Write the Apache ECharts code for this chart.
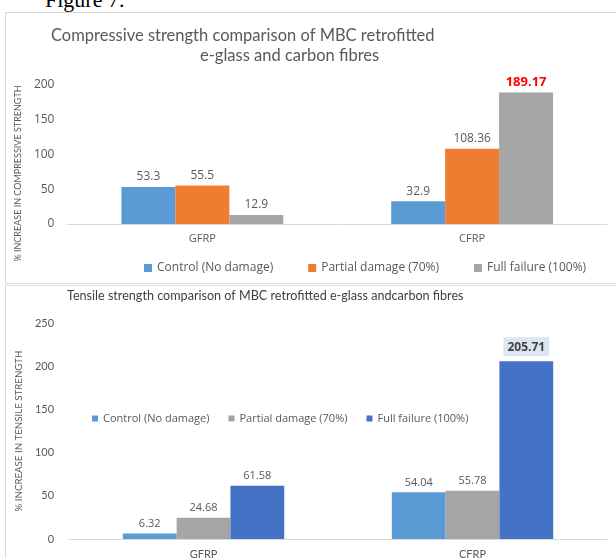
<!DOCTYPE html>
<html>
<head>
<meta charset="utf-8">
<script src="https://cdn.jsdelivr.net/npm/echarts@6/dist/echarts.min.js"></script>
<style>
	html, body { margin: 0; padding: 0; background: #ffffff; }
	body { width: 616px; height: 558px; position: relative; overflow: hidden; }
	#fig { position: absolute; left: 45px; top: -11px; font-family: "Liberation Serif", serif; font-size: 22px; line-height: 22px; color: #000; }
	.panel { position: absolute; left: 5px; width: 620px; border: 1px solid #d9d9d9; background: #fff; }
	#p1 { top: 12px; height: 270px; }
	#p2 { top: 285px; height: 300px; }
	.chart { position: absolute; left: 0; top: 0; width: 610px; }
</style>
</head>
<body>
<div id="fig">Figure 7.</div>
<div class="panel" id="p1"><div class="chart" id="c1" style="height:270px"></div></div>
<div class="panel" id="p2"><div class="chart" id="c2" style="height:300px"></div></div>
<script>
// 数据
var categories = ['GFRP', 'CFRP'];
var seriesNames = ['Control (No damage)', 'Partial damage (70%)', 'Full failure (100%)'];

var compControl = [53.3, 32.9];
var compPartial = [55.5, 108.36];
var compFull = [12.9, 189.17];
var compAxis = { min: 0, max: 200, interval: 50 };

var tensControl = [6.32, 54.04];
var tensPartial = [24.68, 55.78];
var tensFull = [61.58, 205.71];
var tensAxis = { min: 0, max: 250, interval: 50 };

var grey = '#595959';

// 高亮最大值的标签
function markMax(arr, labelStyle) {
	var maxIdx = arr.indexOf(Math.max.apply(null, arr));
	return arr.map(function (v, i) {
		return i === maxIdx ? { value: v, label: labelStyle } : v;
	});
}

function barSeries(name, data, color, fontSize) {
	return {
		name: name,
		type: 'bar',
		data: data,
		barGap: '0%',
		barCategoryGap: '40%',
		itemStyle: { color: color },
		label: {
			show: true,
			position: 'top',
			distance: 4,
			color: grey,
			fontFamily: 'Open Sans',
			fontSize: fontSize
		}
	};
}

var chart1 = echarts.init(document.getElementById('c1'));
chart1.setOption(getCompOption());

var chart2 = echarts.init(document.getElementById('c2'));
chart2.setOption(getTensOption());

function getCompOption() {
	return {
		animation: false,
		backgroundColor: '#ffffff',
		title: [{
			text: 'Compressive strength comparison of MBC retrofitted',
			left: 40,
			top: 9,
			textStyle: { color: grey, fontFamily: 'Lato', fontSize: 16.5, fontWeight: 'normal' }
		}, {
			text: 'e-glass and carbon fibres',
			left: 189,
			top: 29,
			textStyle: { color: grey, fontFamily: 'Lato', fontSize: 16.5, fontWeight: 'normal' }
		}],
		legend: {
			data: seriesNames,
			left: 133,
			top: 244,
			icon: 'rect',
			itemWidth: 8,
			itemHeight: 8,
			itemGap: 35,
			textStyle: { color: grey, fontFamily: 'Open Sans', fontSize: 12 }
		},
		grid: { left: 59, right: 9, top: 72, bottom: 59 },
		xAxis: {
			type: 'category',
			data: categories,
			axisLine: { lineStyle: { color: '#d9d9d9' } },
			axisTick: { show: false },
			axisLabel: { color: grey, fontFamily: 'Open Sans', fontSize: 11, margin: 9 }
		},
		yAxis: {
			type: 'value',
			min: compAxis.min,
			max: compAxis.max,
			interval: compAxis.interval,
			name: '% INCREASE IN COMPRESSIVE STRENGTH',
			nameLocation: 'middle',
			nameRotate: 90,
			nameGap: 43,
			nameTextStyle: { color: grey, fontFamily: 'Lato', fontSize: 9, padding: [0, 38, 0, 0] },
			splitLine: { show: false },
			axisLine: { show: false },
			axisLabel: { color: grey, fontFamily: 'Open Sans', fontSize: 12, margin: 13 }
		},
		series: [
			barSeries(seriesNames[0], compControl, '#5B9BD5', 12),
			barSeries(seriesNames[1], compPartial, '#ED7D31', 12),
			barSeries(seriesNames[2], markMax(compFull, { color: '#FF0000', fontWeight: 'bold', fontSize: 13 }), '#A5A5A5', 12)
		]
	};
}

function getTensOption() {
	return {
		animation: false,
		backgroundColor: '#ffffff',
		title: {
			text: 'Tensile strength comparison of MBC retrofitted e-glass andcarbon fibres',
			left: 61,
			top: 3,
			padding: 0,
			textStyle: { color: '#404040', fontFamily: 'Lato', fontSize: 12.6, fontWeight: 'normal' }
		},
		legend: {
			data: seriesNames,
			left: 81,
			top: 122,
			icon: 'rect',
			itemWidth: 6,
			itemHeight: 6,
			itemGap: 19,
			textStyle: { color: grey, fontFamily: 'Open Sans', fontSize: 11 }
		},
		grid: { left: 59, right: 9, top: 37, bottom: 47 },
		xAxis: {
			type: 'category',
			data: categories,
			axisLine: { lineStyle: { color: '#d9d9d9' } },
			axisTick: { show: false },
			axisLabel: { color: grey, fontFamily: 'Lato', fontSize: 11, margin: 10 }
		},
		yAxis: {
			type: 'value',
			min: tensAxis.min,
			max: tensAxis.max,
			interval: tensAxis.interval,
			name: '% INCREASE IN TENSILE STRENGTH',
			nameLocation: 'middle',
			nameRotate: 90,
			nameGap: 33,
			nameTextStyle: { color: grey, fontFamily: 'Lato', fontSize: 9.7 },
			splitLine: { show: false },
			axisLine: { show: false },
			axisLabel: { color: grey, fontFamily: 'Lato', fontSize: 11, margin: 15 }
		},
		series: [
			barSeries(seriesNames[0], tensControl, '#5B9BD5', 11),
			barSeries(seriesNames[1], tensPartial, '#A5A5A5', 11),
			barSeries(seriesNames[2], markMax(tensFull, {
				color: '#404040', fontWeight: 'bold', fontSize: 12,
				backgroundColor: '#DCE6F2', padding: [4, 4, 3, 4], distance: 5
			}), '#4472C4', 11)
		]
	};
}
</script>
</body>
</html>
